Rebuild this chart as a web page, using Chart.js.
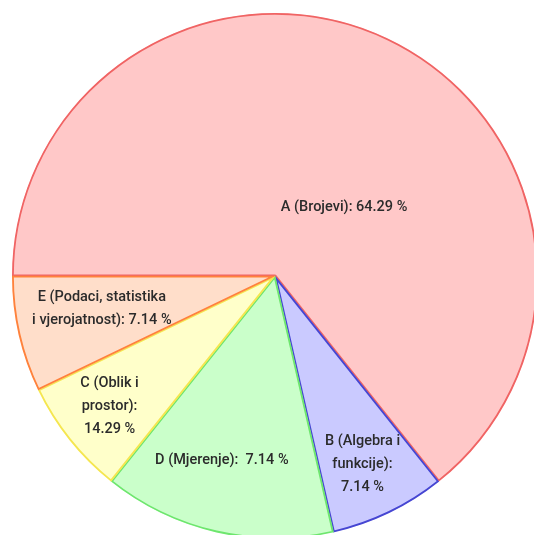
<!DOCTYPE html>
<html>
<head>
<meta charset="utf-8">
<script src="https://cdn.jsdelivr.net/npm/chart.js@4/dist/chart.umd.min.js"></script>
<style>
html,body{margin:0;padding:0;background:#fff;overflow:hidden;width:534px;height:535px;}
#wrap{position:absolute;left:12px;top:13px;width:526px;height:526px;}
</style>
</head>
<body>
<div id="wrap"><canvas id="c" width="526" height="526"></canvas></div>
<script>
const categories = ['A (Brojevi)', 'B (Algebra i funkcije)', 'D (Mjerenje)', 'C (Oblik i prostor)', 'E (Podaci, statistika i vjerojatnost)'];
const values = [64.29, 7.14, 14.29, 7.14, 7.14];
const labelLines = [
  ['A (Brojevi): 64.29 %'],
  ['B (Algebra i', 'funkcije):', '7.14 %'],
  ['D (Mjerenje):  7.14 %'],
  ['C (Oblik i', 'prostor):', '14.29 %'],
  ['E (Podaci, statistika', 'i vjerojatnost): 7.14 %']
];
const fillColors = ['rgb(255,200,200)', 'rgb(202,202,255)', 'rgb(202,255,202)', 'rgb(255,255,202)', 'rgb(255,222,202)'];
const lineColors = ['rgb(240,100,100)', 'rgb(70,70,210)', 'rgb(110,230,110)', 'rgb(245,230,80)', 'rgb(255,130,60)'];
// label anchor: angle offset from slice middle (deg), radius fraction
const labelAnchor = [[19.5, 0.37], [0.8, 0.79], [3.2, 0.73], [0.4, 0.80], [2.2, 0.67]];

const labelPlugin = {
  id: 'sliceLabels',
  afterDatasetsDraw(chart) {
    const ctx = chart.ctx;
    const meta = chart.getDatasetMeta(0);
    ctx.save();
    ctx.font = '500 14.5px Roboto, "Noto Sans", sans-serif';
    ctx.fillStyle = '#2b2b2b';
    ctx.textAlign = 'center';
    ctx.textBaseline = 'middle';
    const lh = 23;
    meta.data.forEach((arc, i) => {
      const p = arc.getProps(['x', 'y', 'startAngle', 'endAngle', 'outerRadius'], true);
      const mid = (p.startAngle + p.endAngle) / 2 + labelAnchor[i][0] * Math.PI / 180;
      const r = p.outerRadius * labelAnchor[i][1];
      const cx = p.x + Math.cos(mid) * r;
      const cy = p.y + Math.sin(mid) * r;
      const lines = labelLines[i];
      const y0 = cy - (lines.length - 1) * lh / 2;
      lines.forEach((t, k) => ctx.fillText(t, cx, y0 + k * lh));
    });
    ctx.restore();
  }
};

new Chart(document.getElementById('c'), {
  type: 'pie',
  data: {
    labels: categories,
    datasets: [{
      data: values,
      backgroundColor: fillColors,
      borderColor: lineColors,
      borderWidth: 1.5,
      borderAlign: 'inner'
    }]
  },
  options: {
    responsive: false,
    animation: false,
    rotation: -90,
    layout: { padding: 0 },
    plugins: {
      legend: { display: false },
      tooltip: { enabled: false }
    }
  },
  plugins: [labelPlugin]
});
</script>
</body>
</html>
